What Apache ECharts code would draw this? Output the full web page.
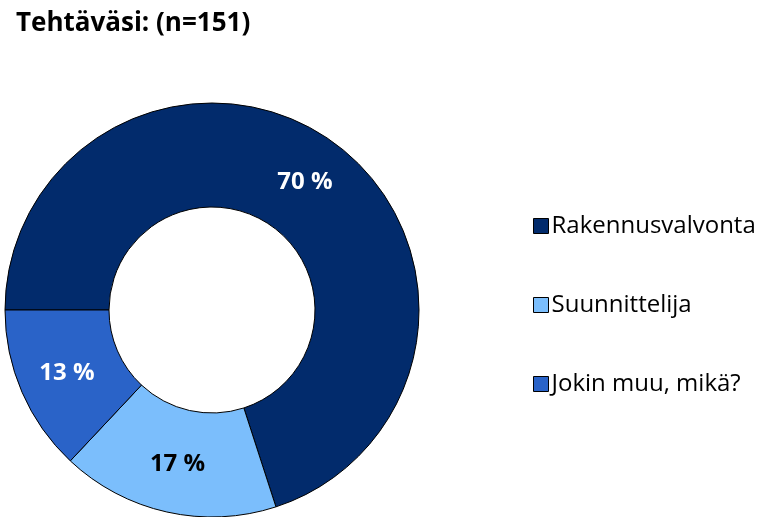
<!DOCTYPE html>
<html>
<head>
<meta charset="utf-8">
<script src="https://cdn.jsdelivr.net/npm/echarts@6/dist/echarts.min.js"></script>
<style>
  html, body { margin: 0; padding: 0; background: #fff; }
  #chart { width: 761px; height: 517px; }
</style>
</head>
<body>
<div id="chart"></div>
<script>
const categories = ['Rakennusvalvonta', 'Suunnittelija', 'Jokin muu, mikä?']
const values = [70, 17, 13]
const colors = ['#022B6C', '#7BBEFC', '#2A63C8']
const labelColors = ['#fff', '#000', '#fff']

const chart = echarts.init(document.getElementById('chart'))

chart.setOption({
  animation: false,
  title: {
    text: 'Tehtäväsi: (n=151)',
    left: 11,
    top: 6,
    textStyle: {
      fontFamily: 'Open Sans',
      fontWeight: 'bold',
      fontSize: 26,
      color: '#000',
    },
  },
  legend: {
    orient: 'vertical',
    left: 528,
    top: 209,
    itemWidth: 15,
    itemHeight: 15,
    itemGap: 55,
    icon: 'rect',
    itemStyle: { borderColor: '#000', borderWidth: 1 },
    textStyle: { fontFamily: 'Open Sans', fontSize: 24, color: '#000', padding: [0, 0, 0, -2] },
    data: categories,
  },
  series: [
    {
      type: 'pie',
      center: [212, 310],
      radius: [103, 207],
      startAngle: 180,
      clockwise: true,
      avoidLabelOverlap: false,
      itemStyle: { borderColor: '#000', borderWidth: 1 },
      label: {
        position: 'inside',
        formatter: '{c} %',
        fontFamily: 'Open Sans',
        fontWeight: 'bold',
        fontSize: 24,
      },
      labelLine: { show: false },
      emphasis: { disabled: true },
      data: categories.map((name, i) => ({
        name,
        value: values[i],
        itemStyle: { color: colors[i] },
        label: { color: labelColors[i] },
      })),
    },
  ],
})
</script>
</body>
</html>
